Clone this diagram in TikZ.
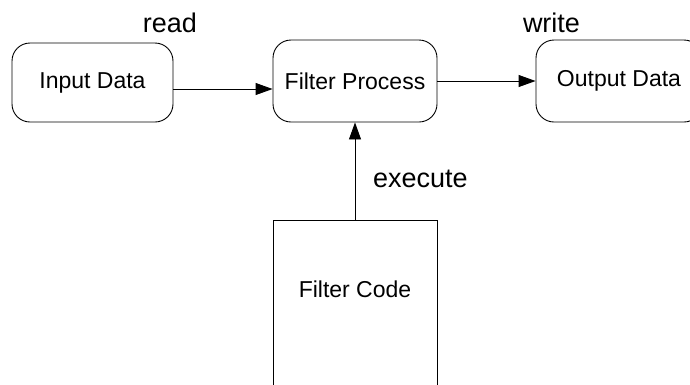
\documentclass[tikz,border=0pt]{standalone}
\usepackage{fontspec}
\setmainfont{Liberation Sans}
\usetikzlibrary{arrows.meta}
\begin{document}
\begin{tikzpicture}[x=1pt,y=1pt,
  box/.style={draw=black, line width=0.9pt, rounded corners=18pt, fill=white,
    inner sep=0pt, font=\fontsize{23}{27}\selectfont},
  plainbox/.style={draw=black, line width=0.9pt, fill=white, inner sep=0pt},
  lbl/.style={font=\fontsize{27}{32}\selectfont, inner sep=0pt},
  txt/.style={font=\fontsize{23}{27}\selectfont, inner sep=0pt},
  arr/.style={draw=black, line width=0.9pt, -{Triangle[length=17pt,width=12pt]}}]
\useasboundingbox (0,0) rectangle (690,-384);
\clip (0,0) rectangle (690,-384);
\fill[white] (0,0) rectangle (690,-384);
\node[box, minimum width=161pt, minimum height=79pt] (in) at (92.5,-82.5) {Input Data};
\node[box, minimum width=164pt, minimum height=82pt] (proc) at (355,-81) {Filter Process};
\node[box, minimum width=166pt, minimum height=82pt] (out) at (619,-81) {Output Data};
\node[plainbox, minimum width=164pt, minimum height=200pt, anchor=north] (code) at (355,-220) {};
\node[txt, anchor=base] (codetxt) at (355,-297) {Filter Code};
\draw[arr] ([yshift=-6.5pt]in.east) -- ([yshift=-8pt]proc.west);
\draw[arr] (proc.east) -- (out.west);
\draw[arr] (code.north) -- (proc.south);
\node[lbl, anchor=base] (read) at (170,-32) {read};
\node[lbl, anchor=base] (write) at (551.5,-32) {write};
\node[lbl, anchor=base west] (exec) at (373,-187) {execute};
\end{tikzpicture}
\end{document}
